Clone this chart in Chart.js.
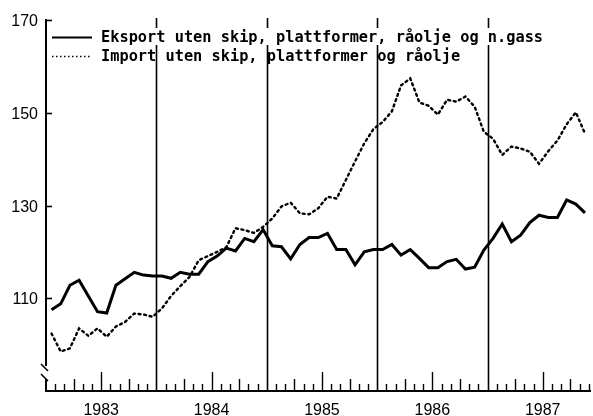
<!DOCTYPE html>
<html>
<head>
<meta charset="utf-8">
<script src="https://cdn.jsdelivr.net/npm/chart.js@4/dist/chart.umd.min.js"></script>
<style>
  html, body { margin:0; padding:0; background:#fff; }
  #wrap { width:593px; height:416px; }
</style>
</head>
<body>
<div id="wrap"><canvas id="chart" width="593" height="416"></canvas></div>
<script>
// Values, monthly Jan 1983 - Nov 1987
const years = ['1983','1984','1985','1986','1987'];
const yTicks = [110, 130, 150, 170];
const legendLabels = ['Eksport uten skip, plattformer, råolje og n.gass', 'Import uten skip, plattformer og råolje'];

const eksport = [
  107.5, 108.8, 112.8, 113.9, 110.5, 107.1, 106.8, 112.8, 114.2, 115.6,
  115.0, 114.8, 114.8, 114.3, 115.6, 115.2, 115.2, 117.9, 119.1, 120.8,
  120.2, 122.9, 122.2, 124.8, 121.3, 121.1, 118.5, 121.6, 123.1, 123.1,
  124.0, 120.5, 120.5, 117.2, 120.0, 120.5, 120.5, 121.6, 119.3, 120.5,
  118.6, 116.6, 116.6, 117.9, 118.4, 116.3, 116.7, 120.4, 122.9, 126.0,
  122.2, 123.6, 126.3, 127.9, 127.4, 127.4, 131.2, 130.3, 128.4
];
const importv = [
  102.4, 98.5, 99.2, 103.5, 101.9, 103.5, 101.7, 103.9, 104.9, 106.7,
  106.5, 106.0, 107.8, 110.5, 112.6, 114.6, 118.2, 119.1, 120.0, 121.0,
  125.1, 124.7, 124.1, 125.4, 127.2, 129.8, 130.6, 128.3, 128.1, 129.4,
  131.9, 131.5, 135.5, 139.5, 143.4, 146.5, 148.0, 150.3, 155.9, 157.4,
  152.2, 151.5, 149.6, 152.8, 152.4, 153.5, 151.3, 145.9, 144.4, 140.9,
  142.7, 142.3, 141.6, 139.0, 141.7, 144.0, 147.5, 150.1, 145.5
];

// month index -> x value (points sit inside their month)
const toPts = arr => arr.map((v, i) => ({ x: i + 0.6, y: v }));

const decor = {
  id: 'decor',
  beforeDatasetsDraw(chart) {
    const ctx = chart.ctx, x = chart.scales.x, y = chart.scales.y;
    const bottom = y.getPixelForValue(90), top = y.getPixelForValue(170);
    ctx.save();
    ctx.strokeStyle = '#000';
    // year separators
    ctx.lineWidth = 1.6;
    for (let k = 12; k < 60; k += 12) {
      const px = Math.round(x.getPixelForValue(k)) + 0.5;
      ctx.beginPath(); ctx.moveTo(px, top - 2); ctx.lineTo(px, bottom); ctx.stroke();
    }
    ctx.restore();
  },
  afterDatasetsDraw(chart) {
    const ctx = chart.ctx, x = chart.scales.x, y = chart.scales.y;
    const left = x.getPixelForValue(0), right = chart.chartArea.right;
    const bottom = y.getPixelForValue(90), top = y.getPixelForValue(170);
    ctx.save();
    ctx.strokeStyle = '#000';
    ctx.fillStyle = '#000';
    ctx.lineWidth = 2;
    // y axis with break
    ctx.beginPath();
    ctx.moveTo(left, top - 1); ctx.lineTo(left, 366);
    ctx.moveTo(left, 379); ctx.lineTo(left, bottom);
    ctx.stroke();
    ctx.lineWidth = 1.6;
    ctx.beginPath();
    ctx.moveTo(left - 5, 364); ctx.lineTo(left + 2, 371);
    ctx.moveTo(left - 5, 374); ctx.lineTo(left + 2, 381);
    ctx.stroke();
    // x axis
    ctx.lineWidth = 2;
    ctx.beginPath(); ctx.moveTo(left - 1, bottom); ctx.lineTo(right, bottom); ctx.stroke();
    // y ticks + labels
    ctx.font = '16px "Liberation Sans", Arial, sans-serif';
    ctx.textAlign = 'right';
    ctx.textBaseline = 'middle';
    yTicks.forEach(v => {
      const py = Math.round(y.getPixelForValue(v)) + 0.5;
      ctx.lineWidth = 1.6;
      ctx.beginPath(); ctx.moveTo(left, py); ctx.lineTo(left + 6, py); ctx.stroke();
      ctx.fillText(String(v), 38, py + 1);
    });
    // month ticks
    ctx.lineWidth = 1.4;
    for (let k = 1; k < 60; k++) {
      if (k % 12 === 0) continue;
      const px = Math.round(x.getPixelForValue(k)) + 0.5;
      if (px > right) break;
      const len = k % 6 === 0 ? 19 : (k % 3 === 0 ? 12 : 7);
      ctx.beginPath(); ctx.moveTo(px, bottom); ctx.lineTo(px, bottom - len); ctx.stroke();
    }
    // year labels
    ctx.textAlign = 'center';
    ctx.textBaseline = 'alphabetic';
    years.forEach((yr, i) => {
      ctx.fillText(yr, x.getPixelForValue(i * 12 + 6), 415);
    });
    // legend
    ctx.font = 'bold 15.3px "DejaVu Sans Mono", monospace';
    ctx.textAlign = 'left';
    const w0 = ctx.measureText(legendLabels[0]).width;
    ctx.fillStyle = '#fff';
    ctx.fillRect(98, 28, w0 + 6, 17);
    ctx.fillStyle = '#000';
    ctx.lineWidth = 2;
    ctx.beginPath(); ctx.moveTo(52, 37.5); ctx.lineTo(92, 37.5); ctx.stroke();
    ctx.lineWidth = 1.4;
    ctx.setLineDash([1.5, 2.5]);
    ctx.beginPath(); ctx.moveTo(52, 56.5); ctx.lineTo(91, 56.5); ctx.stroke();
    ctx.setLineDash([]);
    ctx.fillText(legendLabels[0], 101, 42);
    ctx.fillText(legendLabels[1], 101, 60.5);
    ctx.restore();
  }
};

new Chart(document.getElementById('chart'), {
  type: 'line',
  data: {
    datasets: [
      { label: legendLabels[0], data: toPts(eksport), borderColor: '#000', borderWidth: 3, pointRadius: 0, tension: 0 },
      { label: legendLabels[1], data: toPts(importv), borderColor: '#000', borderWidth: 2.4, borderDash: [2, 3.6], borderCapStyle: 'round', pointRadius: 0, tension: 0 }
    ]
  },
  options: {
    responsive: false,
    animation: false,
    layout: { padding: { left: 46, right: 2, top: 20, bottom: 25 } },
    plugins: { legend: { display: false }, tooltip: { enabled: false } },
    scales: {
      x: { type: 'linear', min: 0, max: 59.25, display: false },
      y: { min: 90, max: 170, display: false }
    }
  },
  plugins: [decor]
});
</script>
</body>
</html>
